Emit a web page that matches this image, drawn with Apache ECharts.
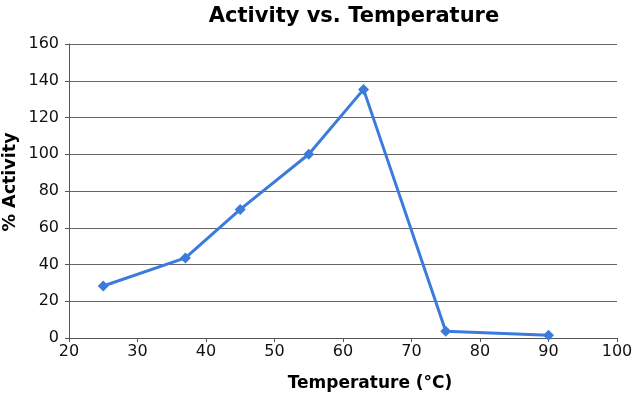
<!DOCTYPE html>
<html><head><meta charset="utf-8">
<script src="https://cdn.jsdelivr.net/npm/echarts@6/dist/echarts.min.js"></script>
<style>html,body{margin:0;padding:0;background:#fff}#c{width:640px;height:394px}</style>
</head><body><div id="c"></div>
<script>
const temperatures = [25, 37, 45, 55, 63, 75, 90];
const activity = [28.3, 43.6, 70, 100, 135.3, 3.7, 1.5];
const title = 'Activity vs. Temperature';
const xName = 'Temperature (°C)';
const yName = '% Activity';

const chart = echarts.init(document.getElementById('c'), null, {renderer: 'canvas'});
const font = 'DejaVu Sans';
chart.setOption({
  animation: false,
  backgroundColor: '#fff',
  title: {text: title, left: 349, top: 1, textAlign: 'center',
    textStyle: {fontFamily: font, fontSize: 21, fontWeight: 'bold', color: '#000'}},
  grid: {left: 69, right: 23, top: 44, bottom: 56, containLabel: false, outerBoundsMode: 'none'},
  xAxis: {type: 'value', min: 20, max: 100, interval: 10,
    name: xName, nameLocation: 'middle', nameGap: 37, nameMoveOverlap: false,
    nameTextStyle: {fontFamily: font, fontSize: 17, fontWeight: 'bold', color: '#000', padding: [0,0,0,54]},
    axisLine: {show: true, onZero: false, lineStyle: {color: '#555', width: 1}},
    axisTick: {show: true, inside: false, length: 4, lineStyle: {color: '#555'}},
    axisLabel: {fontFamily: font, fontSize: 16, color: '#111', margin: 6},
    splitLine: {show: false}},
  yAxis: {type: 'value', min: 0, max: 160, interval: 20,
    name: yName, nameLocation: 'middle', nameGap: 50, nameRotate: 90, nameMoveOverlap: false,
    nameTextStyle: {fontFamily: font, fontSize: 17.5, fontWeight: 'bold', color: '#000', padding: [0,0,0,18]},
    axisLine: {show: true, lineStyle: {color: '#555', width: 1}},
    axisTick: {show: true, length: 4, lineStyle: {color: '#555'}},
    axisLabel: {fontFamily: font, fontSize: 16, color: '#111', margin: 10},
    splitLine: {show: true, lineStyle: {color: '#666', width: 1}}},
  series: [{
    type: 'line',
    data: temperatures.map((t, i) => [t, activity[i]]),
    symbol: 'diamond', symbolSize: 11,
    lineStyle: {color: '#3b7bdc', width: 3},
    itemStyle: {color: '#3b7bdc'}
  }]
});
</script></body></html>
